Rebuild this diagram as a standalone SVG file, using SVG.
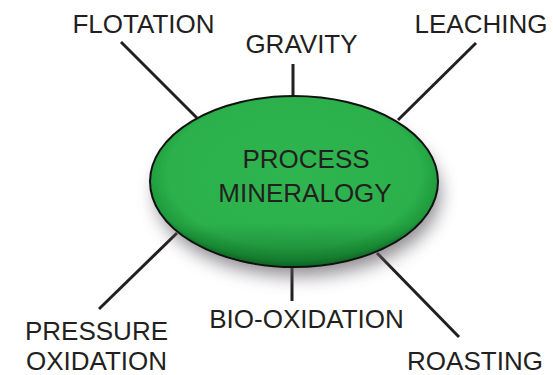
<svg xmlns="http://www.w3.org/2000/svg" width="553" height="375" viewBox="0 0 553 375">
  <style>
    .lbl { font-family: "Liberation Sans", Arial, sans-serif; font-size: 26px; fill: #231f20; text-anchor: middle; }
    .conn line { stroke: #231f20; stroke-width: 3; stroke-linecap: butt; }
  </style>
  <defs>
    <radialGradient id="gfill" cx="0.5" cy="0.45" r="0.55">
      <stop offset="0" stop-color="#2fb550"/>
      <stop offset="0.8" stop-color="#2bb04b"/>
      <stop offset="0.93" stop-color="#1f9a3c"/>
      <stop offset="1" stop-color="#0d6f26"/>
    </radialGradient>
    <linearGradient id="gbot" x1="0" y1="0" x2="0" y2="1">
      <stop offset="0.75" stop-color="#0a5a1e" stop-opacity="0"/>
      <stop offset="1" stop-color="#0a5a1e" stop-opacity="0.55"/>
    </linearGradient>
    <filter id="shadow" x="-20%" y="-20%" width="140%" height="150%">
      <feGaussianBlur stdDeviation="9"/>
    </filter>
  </defs>
  <rect width="553" height="375" fill="#ffffff"/>
  <g id="connectors" class="conn">
    <line x1="121" y1="42" x2="197" y2="118"/>
    <line x1="293" y1="64" x2="293" y2="97"/>
    <line x1="476" y1="43" x2="398" y2="120"/>
    <line x1="99" y1="309" x2="177" y2="233"/>
    <line x1="292" y1="266" x2="292" y2="301"/>
    <line x1="377" y1="253" x2="459" y2="337"/>
  </g>
  <g id="center">
    <ellipse cx="298" cy="194" rx="142" ry="82" fill="#5e5a62" opacity="0.7" filter="url(#shadow)"/>
    <ellipse cx="294" cy="181.5" rx="144" ry="85.5" fill="url(#gfill)" stroke="#111111" stroke-width="2"/>
    <ellipse cx="294" cy="181.5" rx="143" ry="84.5" fill="url(#gbot)"/>
    <text class="lbl" x="306" y="168">PROCESS</text>
    <text class="lbl" x="305" y="202">MINERALOGY</text>
  </g>
  <g id="flotation"><text class="lbl" x="143.5" y="33">FLOTATION</text></g>
  <g id="gravity"><text class="lbl" x="301.5" y="53">GRAVITY</text></g>
  <g id="leaching"><text class="lbl" x="481" y="33">LEACHING</text></g>
  <g id="pressure-oxidation">
    <text class="lbl" x="96.5" y="340">PRESSURE</text>
    <text class="lbl" x="96.5" y="370">OXIDATION</text>
  </g>
  <g id="bio-oxidation"><text class="lbl" x="306.5" y="328">BIO-OXIDATION</text></g>
  <g id="roasting"><text class="lbl" x="475" y="370">ROASTING</text></g>
</svg>
